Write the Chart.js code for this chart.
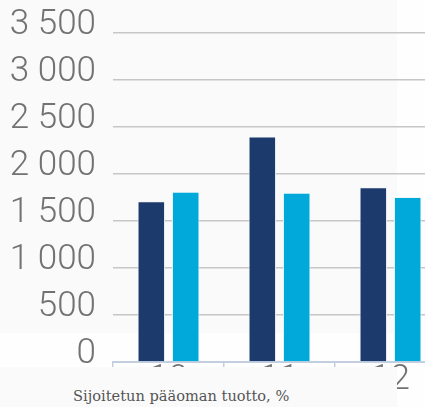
<!DOCTYPE html>
<html>
<head>
<meta charset="utf-8">
<script src="https://cdn.jsdelivr.net/npm/chart.js@4/dist/chart.umd.min.js"></script>
<style>
  html, body { margin: 0; padding: 0; background: #fefefe; overflow: hidden; width: 425px; height: 407px; }
  #bg { position: absolute; left: 0; top: 0; width: 397px; height: 333px; background: #fafafa; }
  #wrap { position: absolute; left: 0; top: 0; width: 446px; height: 407px; }
  #caption {
    position: absolute; left: 0; top: 367px; width: 397px; height: 40px;
    background: #fafafa; z-index: 2;
    font-family: "DejaVu Serif", serif; font-size: 14.6px; color: #555;
    box-sizing: border-box; padding-left: 73px; padding-top: 20px; white-space: nowrap;
  }
</style>
</head>
<body>
<div id="bg"></div>
<div id="wrap"><canvas id="c"></canvas></div>
<div id="caption">Sijoitetun pääoman tuotto, %</div>
<script>
// Years shown on the category axis
const categories = ['10', '11', '12'];
// Two series per year
const seriesA = [1710, 2400, 1860];
const seriesB = [1812, 1800, 1755];
// Value axis
const yMin = 0;
const yMax = 3500;
const yStep = 500;

const fmt = v => String(v).replace(/\B(?=(\d{3})+(?!\d))/g, ' ');

new Chart(document.getElementById('c'), {
  type: 'bar',
  data: {
    labels: categories,
    datasets: [
      { data: seriesA, backgroundColor: '#1c3a6b', borderColor: '#f2f5fa', borderWidth: 1 },
      { data: seriesB, backgroundColor: '#00a9d9', borderColor: '#eef8fc', borderWidth: 1 }
    ]
  },
  options: {
    responsive: true,
    maintainAspectRatio: false,
    animation: false,
    layout: { padding: { top: 33, left: 0, right: 0, bottom: 0 } },
    plugins: { legend: { display: false }, tooltip: { enabled: false } },
    datasets: { bar: { categoryPercentage: 0.62, barPercentage: 0.8 } },
    scales: {
      x: {
        grid: { display: true, drawOnChartArea: false, drawTicks: true, tickLength: 5, color: '#c3cfe0', lineWidth: 1.5 },
        border: { display: true, color: '#c3cfe0', width: 2 },
        ticks: { color: '#727272', font: { family: 'Roboto', size: 35, weight: 300 }, padding: -8, maxRotation: 0 },
        afterFit: s => { s.height = 45; }
      },
      y: {
        min: yMin, max: yMax,
        grid: {
          drawTicks: false,
          color: ctx => (ctx.tick && ctx.tick.value === 0) ? 'rgba(0,0,0,0)' : '#c6c6c6',
          lineWidth: 1.5
        },
        border: { display: false },
        ticks: {
          stepSize: yStep, color: '#727272', padding: 17, labelOffset: -8,
          font: { family: 'Roboto', size: 35, weight: 300 },
          callback: v => fmt(v)
        },
        afterFit: s => { s.width = 113; s.paddingTop = 0; s.paddingBottom = 0; }
      }
    }
  }
});
</script>
</body>
</html>
